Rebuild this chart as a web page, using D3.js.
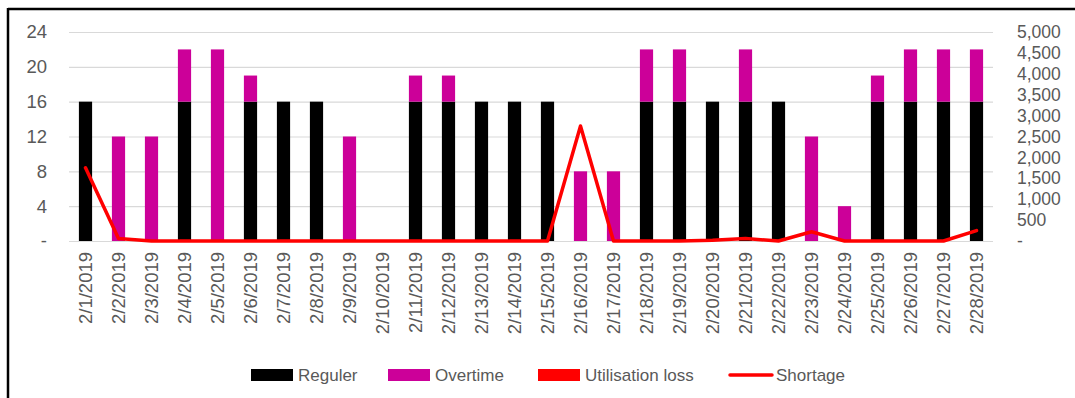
<!DOCTYPE html>
<html>
<head>
<meta charset="utf-8">
<script src="https://cdn.jsdelivr.net/npm/d3@7/dist/d3.min.js"></script>
<style>
  html, body { margin: 0; padding: 0; background: #fff; }
  svg { display: block; font-family: "Liberation Sans", Arial, sans-serif; }
</style>
</head>
<body>
<svg id="chart" width="1075" height="398"></svg>
<script>
// Daily capacity by shift type (hours) and shortage (units), February 2019
const dates = [
  "2/1/2019","2/2/2019","2/3/2019","2/4/2019","2/5/2019","2/6/2019","2/7/2019",
  "2/8/2019","2/9/2019","2/10/2019","2/11/2019","2/12/2019","2/13/2019","2/14/2019",
  "2/15/2019","2/16/2019","2/17/2019","2/18/2019","2/19/2019","2/20/2019","2/21/2019",
  "2/22/2019","2/23/2019","2/24/2019","2/25/2019","2/26/2019","2/27/2019","2/28/2019"
];
const reguler  = [16,0,0,16,0,16,16,16,0,0,16,16,16,16,16,0,0,16,16,16,16,16,0,0,16,16,16,16];
const overtime = [0,12,12,6,22,3,0,0,12,0,3,3,0,0,0,8,8,6,6,0,6,0,12,4,3,6,6,6];
const utilisationLoss = [0,0,0,0,0,0,0,0,0,0,0,0,0,0,0,0,0,0,0,0,0,0,0,0,0,0,0,0];
const shortage = [1750,60,0,0,0,0,0,0,0,0,0,0,0,0,0,2750,0,0,0,20,60,0,220,0,0,0,0,250];

const leftTicks  = [0,4,8,12,16,20,24];
const rightTicks = [0,500,1000,1500,2000,2500,3000,3500,4000,4500,5000];

const colors = { reguler: "#000000", overtime: "#cc0099", loss: "#ff0000", shortage: "#ff0000" };
const textColor = "#595959";

const svg = d3.select("#chart");

// frame edges (top and left)
svg.append("line").attr("x1", 8).attr("x2", 1075).attr("y1", 9).attr("y2", 9)
  .attr("stroke", "#000").attr("stroke-width", 2.5);
svg.append("line").attr("x1", 8).attr("x2", 8).attr("y1", 8).attr("y2", 398)
  .attr("stroke", "#000").attr("stroke-width", 2.5);

const plot = { left: 69, right: 993, top: 32, bottom: 241 };

const x = d3.scaleBand().domain(dates).range([plot.left, plot.right]).paddingInner(0.6).paddingOuter(0.3);
const yL = d3.scaleLinear().domain([0, 24]).range([plot.bottom, plot.top]);
const yR = d3.scaleLinear().domain([0, 5000]).range([plot.bottom, plot.top]);

// gridlines
svg.append("g").selectAll("line").data(leftTicks).join("line")
  .attr("x1", plot.left).attr("x2", plot.right)
  .attr("y1", d => yL(d) + 0.5).attr("y2", d => yL(d) + 0.5)
  .attr("stroke", "#d9d9d9").attr("stroke-width", 1.2);

const fmt = d => d === 0 ? "-" : d3.format(",")(d);

// left axis
const axL = svg.append("g").attr("transform", `translate(${plot.left - 14},0)`)
  .call(d3.axisLeft(yL).tickValues(leftTicks).tickFormat(fmt).tickSize(0).tickPadding(8));
axL.select(".domain").remove();
axL.selectAll("text").attr("fill", textColor).style("font-size", "18.5px");

// right axis
const axR = svg.append("g").attr("transform", `translate(${plot.right + 16},0)`)
  .call(d3.axisRight(yR).tickValues(rightTicks).tickFormat(fmt).tickSize(0).tickPadding(8));
axR.select(".domain").remove();
axR.selectAll("text").attr("fill", textColor).style("font-size", "17.5px");

// stacked bars
const stackData = dates.map((d, i) => ({ date: d, reguler: reguler[i], overtime: overtime[i], loss: utilisationLoss[i] }));
const stack = d3.stack().keys(["reguler", "overtime", "loss"])(stackData);
const keyColor = { reguler: colors.reguler, overtime: colors.overtime, loss: colors.loss };

svg.append("g").selectAll("g").data(stack).join("g")
  .attr("fill", s => keyColor[s.key])
  .selectAll("rect").data(s => s).join("rect")
  .attr("x", d => x(d.data.date))
  .attr("width", x.bandwidth())
  .attr("y", d => yL(d[1]))
  .attr("height", d => yL(d[0]) - yL(d[1]));

// x axis labels
const axX = svg.append("g").attr("transform", `translate(0,${plot.bottom + 4})`)
  .call(d3.axisBottom(x).tickSize(0).tickPadding(0));
axX.select(".domain").remove();
axX.selectAll("text")
  .attr("fill", textColor).style("font-size", "18.5px")
  .attr("text-anchor", "end")
  .attr("dy", "0.35em")
  .attr("transform", "rotate(-90) translate(-7,0)")
  .attr("x", 0).attr("y", 0);
axX.selectAll(".tick").attr("transform", d => `translate(${x(d) + x.bandwidth() / 2},0)`);

// shortage line
const line = d3.line().x((d, i) => x(dates[i]) + x.bandwidth() / 2).y(d => yR(d));
svg.append("path").datum(shortage)
  .attr("d", line).attr("fill", "none")
  .attr("stroke", colors.shortage).attr("stroke-width", 3.5)
  .attr("stroke-linejoin", "round").attr("stroke-linecap", "round");

// legend
const legendItems = [
  { label: "Reguler", color: colors.reguler, type: "rect", x: 251 },
  { label: "Overtime", color: colors.overtime, type: "rect", x: 388 },
  { label: "Utilisation loss", color: colors.loss, type: "rect", x: 538 },
  { label: "Shortage", color: colors.shortage, type: "line", x: 729 }
];
const lg = svg.append("g");
const ly = 375;
legendItems.forEach(it => {
  if (it.type === "rect") {
    lg.append("rect").attr("x", it.x).attr("y", ly - 6).attr("width", 42).attr("height", 12).attr("fill", it.color);
  } else {
    lg.append("line").attr("x1", it.x + 1).attr("x2", it.x + 43).attr("y1", ly).attr("y2", ly)
      .attr("stroke", it.color).attr("stroke-width", 3.5).attr("stroke-linecap", "round");
  }
  lg.append("text").attr("x", it.x + 47).attr("y", ly).attr("dy", "0.35em")
    .attr("fill", textColor).style("font-size", "17px").text(it.label);
});
</script>
</body>
</html>
